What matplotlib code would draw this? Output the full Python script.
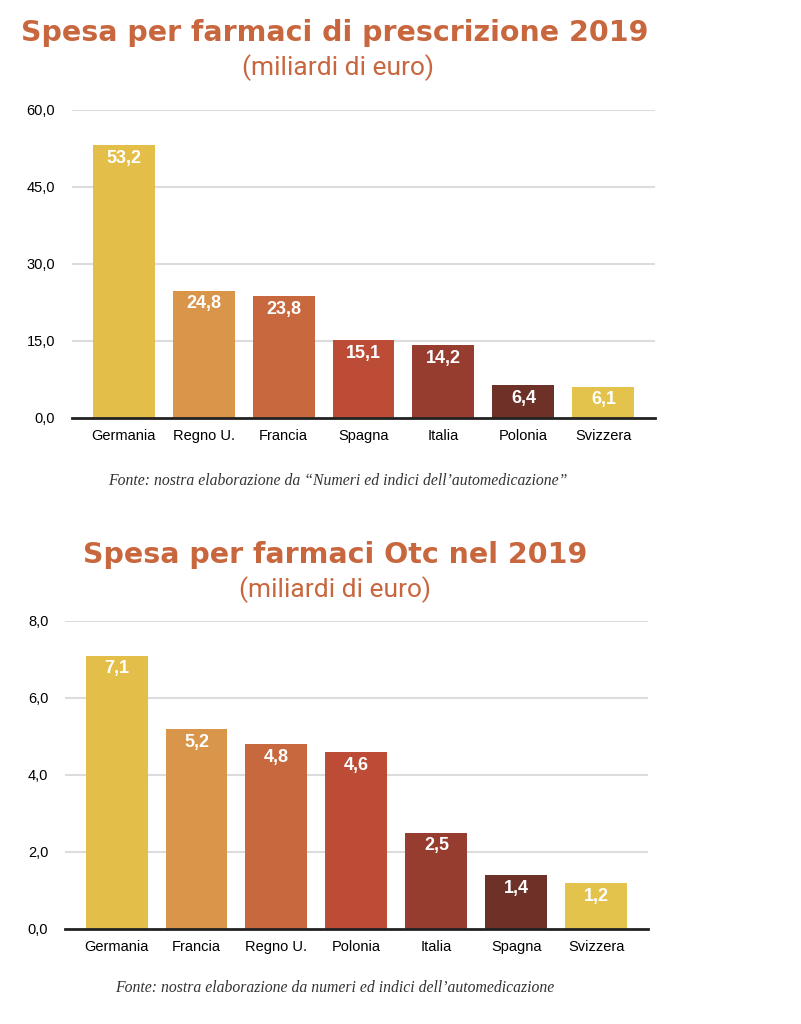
import numpy as np
import matplotlib.pyplot as plt

# Dati: spesa farmaci 2019 (miliardi di euro)
paesi_presc = ["Germania", "Regno U.", "Francia", "Spagna", "Italia", "Polonia", "Svizzera"]
spesa_presc = [53.2, 24.8, 23.8, 15.1, 14.2, 6.4, 6.1]

paesi_otc = ["Germania", "Francia", "Regno U.", "Polonia", "Italia", "Spagna", "Svizzera"]
spesa_otc = [7.1, 5.2, 4.8, 4.6, 2.5, 1.4, 1.2]

colori = ["#E3BE48", "#D9964A", "#C8683E", "#BC4C36", "#963D2F", "#6E3127", "#E3C34C"]
titolo_col = "#C8673E"

plt.rcParams["font.family"] = ["Liberation Sans", "DejaVu Sans"]

fig = plt.figure(figsize=(8.01, 10.24), dpi=100)


def grafico(ax, paesi, valori, ymax, passo):
    x = np.arange(len(paesi))
    ax.bar(x, valori, width=0.775, color=colori, zorder=3)
    ax.set_xlim(-0.645, 6.645)
    ax.set_ylim(0, ymax)
    ticks = np.arange(0, ymax + passo / 2, passo)
    ax.set_yticks(ticks)
    ax.set_yticklabels([f"{t:.1f}".replace(".", ",") for t in ticks], fontsize=10.5)
    ax.set_xticks(x)
    ax.set_xticklabels(paesi, fontsize=10.5)
    ax.tick_params(length=0, pad=8)
    ax.tick_params(axis="y", pad=12)
    for t in ticks[1:]:
        ax.axhline(t, color="#dcdcdc", lw=1.5, zorder=1)
    for s in ["top", "right", "left"]:
        ax.spines[s].set_visible(False)
    ax.spines["bottom"].set_linewidth(2)
    ax.spines["bottom"].set_color("#222222")
    ax.spines["bottom"].set_zorder(4)
    off = ymax * 0.043
    for xi, v in zip(x, valori):
        ax.text(xi, v - off, f"{v:.1f}".replace(".", ","), ha="center", va="center",
                color="white", fontsize=13, fontweight="bold", zorder=5)


ax1 = fig.add_axes([0.0899, 0.5918, 0.7278, 0.3008])
grafico(ax1, paesi_presc, spesa_presc, 60, 15)

ax2 = fig.add_axes([0.0811, 0.0928, 0.7278, 0.3008])
grafico(ax2, paesi_otc, spesa_otc, 8, 2)

# Titoli
fig.text(335 / 801, 1 - 33 / 1024, "Spesa per farmaci di prescrizione 2019", ha="center", va="center",
         fontsize=20.5, fontweight="heavy", color=titolo_col, family="DejaVu Sans")
fig.text(338 / 801, 1 - 68 / 1024, "(miliardi di euro)", ha="center", va="center",
         fontsize=19, color=titolo_col, family="Roboto")
fig.text(335 / 801, 1 - 555 / 1024, "Spesa per farmaci Otc nel 2019", ha="center", va="center",
         fontsize=20.5, fontweight="heavy", color=titolo_col, family="DejaVu Sans")
fig.text(335 / 801, 1 - 590 / 1024, "(miliardi di euro)", ha="center", va="center",
         fontsize=19, color=titolo_col, family="Roboto")

# Fonti
fig.text(338 / 801, 1 - 481 / 1024, "Fonte: nostra elaborazione da \u201cNumeri ed indici dell\u2019automedicazione\u201d",
         ha="center", va="center", fontsize=11.3, style="italic", family="Liberation Serif", color="#333333")
fig.text(335 / 801, 1 - 988 / 1024, "Fonte: nostra elaborazione da numeri ed indici dell\u2019automedicazione",
         ha="center", va="center", fontsize=11.3, style="italic", family="Liberation Serif", color="#333333")

fig.savefig("out.png", dpi=100)
